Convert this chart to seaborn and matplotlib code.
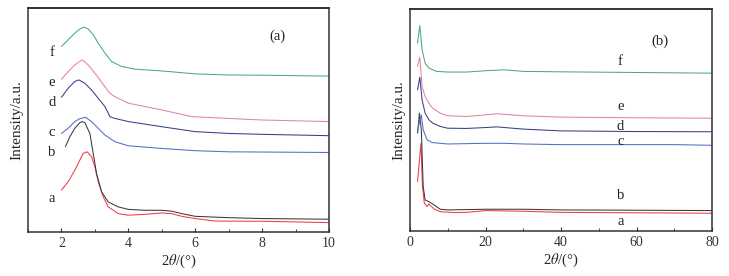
import matplotlib
matplotlib.use("Agg")
import matplotlib.pyplot as plt
import seaborn as sns
import pandas as pd
from matplotlib.ticker import MultipleLocator

# --- panel (a): small-angle scan ---
a_x = [2.0, 2.2, 2.4, 2.55, 2.65, 2.77, 2.9, 3.0, 3.1, 3.25, 3.4, 3.7, 4.0, 4.5, 5.0, 5.3, 5.6, 6.0, 6.6, 8.0, 10.0]
a_y = [18.7, 22.4, 27.6, 32.1, 35.1, 35.8, 33.6, 29.1, 22.4, 15.7, 11.2, 8.2, 7.5, 7.9, 8.5, 8.2, 7.0, 6.0, 4.9, 4.8, 4.2]
b_x = [2.12, 2.25, 2.4, 2.55, 2.62, 2.7, 2.85, 2.95, 3.05, 3.2, 3.4, 3.7, 4.0, 4.5, 5.0, 5.3, 5.6, 6.0, 7.0, 8.0, 10.0]
b_y = [38.1, 42.5, 46.3, 48.8, 49.3, 48.8, 44.0, 35.1, 26.1, 17.9, 13.4, 11.2, 10.1, 9.7, 9.7, 9.3, 8.2, 7.0, 6.4, 6.0, 5.7]
c_x = [2.0, 2.2, 2.4, 2.55, 2.72, 2.9, 3.1, 3.3, 3.6, 4.0, 5.0, 6.0, 7.0, 10.0]
c_y = [44.0, 46.3, 49.3, 50.6, 51.2, 49.3, 46.3, 43.3, 40.3, 38.5, 37.3, 36.3, 35.8, 35.5]
d_x = [2.0, 2.2, 2.4, 2.52, 2.7, 2.9, 3.1, 3.3, 3.45, 3.6, 4.0, 5.0, 6.0, 7.0, 8.0, 10.0]
d_y = [60.1, 64.2, 67.2, 67.9, 66.4, 63.4, 59.7, 56.0, 51.5, 50.7, 49.3, 47.0, 44.8, 44.0, 43.6, 43.0]
e_x = [2.0, 2.2, 2.4, 2.62, 2.8, 3.0, 3.15, 3.3, 3.45, 3.6, 4.0, 4.5, 5.0, 5.9, 7.0, 8.0, 10.0]
e_y = [68.2, 71.6, 74.6, 76.9, 74.6, 70.9, 67.9, 64.9, 61.9, 60.4, 57.5, 56.0, 54.5, 51.5, 50.7, 50.0, 49.3]
f_x = [2.0, 2.2, 2.4, 2.55, 2.67, 2.8, 2.95, 3.1, 3.3, 3.5, 3.8, 4.2, 5.0, 6.0, 7.0, 8.0, 10.0]
f_y = [82.8, 85.8, 88.8, 90.6, 91.5, 90.6, 88.1, 84.3, 79.9, 76.1, 73.9, 72.7, 71.9, 70.6, 70.1, 70.0, 69.6]

# --- panel (b): wide-angle scan ---
ba_x = [2.0, 2.9, 3.3, 3.8, 4.5, 5.0, 5.5, 6.5, 8.0, 12.0, 15.0, 20.0, 30.0, 40.0, 80.0]
ba_y = [22.3, 39.5, 20.0, 12.5, 11.0, 12.2, 11.3, 9.8, 8.7, 8.3, 8.4, 9.2, 8.9, 8.4, 8.0]
bb_x = [2.0, 2.5, 3.0, 3.5, 4.0, 5.0, 6.0, 8.0, 10.0, 20.0, 30.0, 40.0, 80.0]
bb_y = [44.1, 53.1, 45.6, 20.0, 14.0, 13.2, 12.2, 9.8, 9.5, 9.8, 9.8, 9.5, 9.2]
bc_x = [2.0, 2.5, 3.0, 3.5, 4.5, 6.0, 10.0, 20.0, 25.0, 30.0, 40.0, 60.0, 70.0, 80.0]
bc_y = [44.8, 49.3, 52.3, 45.6, 41.1, 39.8, 39.2, 39.5, 39.5, 39.2, 38.9, 38.9, 38.9, 38.6]
bd_x = [2.0, 2.6, 3.2, 4.0, 5.0, 6.0, 8.0, 10.0, 15.0, 20.0, 23.0, 30.0, 40.0, 60.0, 80.0]
bd_y = [63.6, 69.3, 59.1, 53.1, 50.1, 48.6, 47.1, 46.3, 46.2, 46.6, 46.9, 45.9, 45.1, 44.8, 44.7]
be_x = [2.0, 2.6, 3.2, 4.0, 5.0, 6.0, 8.0, 10.0, 15.0, 20.0, 23.0, 30.0, 40.0, 60.0, 80.0]
be_y = [74.1, 78.3, 65.1, 60.6, 57.6, 55.3, 53.1, 51.9, 51.6, 52.3, 52.8, 51.9, 51.3, 51.0, 50.8]
bf_x = [2.0, 2.6, 3.2, 4.0, 5.0, 7.0, 10.0, 15.0, 20.0, 25.0, 30.0, 40.0, 60.0, 80.0]
bf_y = [84.7, 92.5, 81.7, 75.6, 73.4, 71.9, 71.6, 71.6, 72.2, 72.6, 71.9, 71.7, 71.4, 71.1]

names = ["a", "b", "c", "d", "e", "f"]
colors = {"a": "#ef3b4b", "b": "#3a3a3a", "c": "#4f6fc4", "d": "#3c3c8c", "e": "#e483a4", "f": "#45ad78"}

left_series = {"a": (a_x, a_y), "b": (b_x, b_y), "c": (c_x, c_y),
               "d": (d_x, d_y), "e": (e_x, e_y), "f": (f_x, f_y)}
right_series = {"a": (ba_x, ba_y), "b": (bb_x, bb_y), "c": (bc_x, bc_y),
                "d": (bd_x, bd_y), "e": (be_x, be_y), "f": (bf_x, bf_y)}

left_labels = {"a": (1.72, 14.9), "b": (1.72, 35.4), "c": (1.72, 44.3),
               "d": (1.72, 57.8), "e": (1.72, 66.7), "f": (1.72, 80.1)}
right_labels = {"a": (55.7, 4.2), "b": (55.7, 16.2), "c": (55.7, 40.3),
                "d": (55.7, 47.1), "e": (55.7, 56.1), "f": (55.7, 76.4)}


def to_frame(series):
    rows = []
    for k in names:
        xs, ys = series[k]
        for x, y in zip(xs, ys):
            rows.append({"x": x, "y": y, "sample": k})
    return pd.DataFrame(rows)


sns.set_style("ticks")
plt.rcParams['font.family'] = ['Liberation Serif', 'DejaVu Serif']
plt.rcParams['mathtext.fontset'] = 'stix'

fig = plt.figure(figsize=(7.29, 2.76), dpi=100)
ax1 = fig.add_axes([28 / 729, 44 / 276, 301 / 729, 224 / 276])
ax2 = fig.add_axes([410 / 729, 45 / 276, 302 / 729, 222 / 276])


def draw_panel(ax, series, labels, xlim, major, minor, tag, tag_pos):
    df = to_frame(series)
    sns.lineplot(data=df, x="x", y="y", hue="sample", palette=colors,
                 ax=ax, linewidth=0.75, legend=False, sort=False, estimator=None)
    for k, (lx, ly) in labels.items():
        ax.text(lx, ly, k, fontsize=10.5, ha="center", va="center", color="#222222")
    ax.text(tag_pos[0], tag_pos[1], tag, fontsize=10.5, ha="center", va="center", color="#222222")
    ax.set_xlim(*xlim)
    ax.set_ylim(0, 100)
    ax.xaxis.set_major_locator(MultipleLocator(major))
    ax.xaxis.set_minor_locator(MultipleLocator(minor))
    ax.set_yticks([])
    ax.tick_params(axis="x", which="both", direction="in", labelsize=10, colors="#333333")
    ax.tick_params(axis="x", which="major", length=3)
    ax.tick_params(axis="x", which="minor", length=2)
    for s in ax.spines.values():
        s.set_visible(True)
        s.set_linewidth(1.1)
        s.set_color("#333333")
    ax.spines["top"].set_linewidth(1.4)
    ax.set_xlabel(r"2$\theta$/(°)", fontsize=10.5, labelpad=2)
    ax.set_ylabel("Intensity/a.u.", fontsize=11, labelpad=3)


draw_panel(ax1, left_series, left_labels, (1, 10), 2, 1, "(a)", (8.45, 87.3))
draw_panel(ax2, right_series, right_labels, (0, 80), 20, 10, "(b)", (66.3, 85.4))

plt.savefig("out.png", dpi=100)
plt.close()
